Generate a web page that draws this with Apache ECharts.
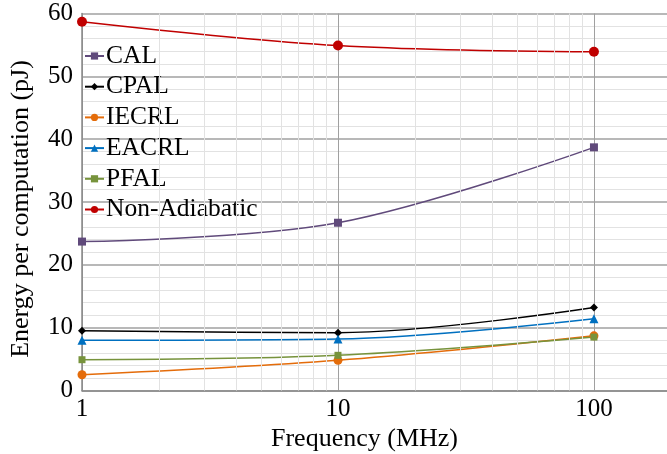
<!DOCTYPE html>
<html>
<head>
<meta charset="utf-8">
<script src="https://cdn.jsdelivr.net/npm/echarts@6/dist/echarts.min.js"></script>
<style>html,body{margin:0;padding:0;background:#fff}#c{width:667px;height:454px}</style>
</head>
<body>
<div id="c"></div>
<script>
const frequencies = [1, 10, 100];
const calValues = [23.7, 26.7, 38.7];
const cpalValues = [9.5, 9.2, 13.2];
const iecrlValues = [2.5, 4.8, 8.7];
const eacrlValues = [8.0, 8.2, 11.4];
const pfalValues = [4.9, 5.6, 8.5];
const nonAdiabaticValues = [58.7, 54.9, 53.9];
const xMinorGrid = [2,3,4,5,6,7,8,9,20,30,40,50,60,70,80,90,200];
const seriesNames = ['CAL','CPAL','IECRL','EACRL','PFAL','Non-Adiabatic'];

const font = 'Liberation Serif';
function pts(vals){ return frequencies.map((f,i)=>[f, vals[i]]); }
function mk(name, vals, color, symbol, size){
  return {
    name, type:'line', data: pts(vals), smooth:0.35, symbol, symbolSize:size,
    lineStyle:{color, width:1.5}, itemStyle:{color}, z:3
  };
}
const chart = echarts.init(document.getElementById('c'), null, {renderer:'canvas'});
chart.setOption({
  animation:false,
  backgroundColor:'#fff',
  grid:{left:82, top:13.5, width:589, height:377, containLabel:false, outerBoundsMode:'none'},
  legend:{
    orient:'vertical', left:84, top:43, padding:0, itemGap:4.7,
    itemWidth:19, itemHeight:9,
    data: seriesNames,
    textStyle:{fontFamily:font, fontSize:25.5, color:'#000', lineHeight:25, padding:[0,0,0,-3]}
  },
  xAxis:{
    type:'log', logBase:10, min:1, max:200,
    name:'Frequency (MHz)', nameLocation:'middle', nameGap:36,
    nameTextStyle:{fontFamily:font, fontSize:26, color:'#000', padding:[0,24,0,0]},
    axisLine:{show:true, lineStyle:{color:'#888', width:1.5}},
    axisTick:{show:false},
    axisLabel:{fontFamily:font, fontSize:25, color:'#000', margin:6, showMaxLabel:false},
    splitLine:{show:true, lineStyle:{color:'#a0a0a0', width:1}},
    minorTick:{show:false}
  },
  yAxis:{
    type:'value', min:0, max:60, interval:10,
    name:'Energy per computation (pJ)', nameLocation:'middle', nameGap:48,
    nameTextStyle:{fontFamily:font, fontSize:26, color:'#000', padding:[0,14,0,0]},
    axisLine:{show:true, lineStyle:{color:'#888', width:1.5}},
    axisTick:{show:false},
    axisLabel:{fontFamily:font, fontSize:25, color:'#000', margin:9},
    splitLine:{show:true, lineStyle:{color:'#a0a0a0', width:1.5}},
    minorTick:{show:false, splitNumber:5},
    minorSplitLine:{show:true, lineStyle:{color:'#e2e2e2', width:1}}
  },
  series:[
    {
      name:'_grid', type:'line', data:[], z:1, silent:true,
      markLine:{
        silent:true, symbol:['none','none'], label:{show:false},
        lineStyle:{color:'#e2e2e2', width:1, type:'solid'},
        data: xMinorGrid.map(v=>({xAxis:v}))
      }
    },
    mk('CAL', calValues, '#604a7b', 'rect', 8),
    mk('CPAL', cpalValues, '#000000', 'diamond', 8),
    mk('IECRL', iecrlValues, '#e46c0a', 'circle', 9),
    mk('EACRL', eacrlValues, '#0070c0', 'triangle', 9),
    mk('PFAL', pfalValues, '#77933c', 'rect', 7),
    mk('Non-Adiabatic', nonAdiabaticValues, '#c00000', 'circle', 10)
  ]
});
</script>
</body>
</html>
